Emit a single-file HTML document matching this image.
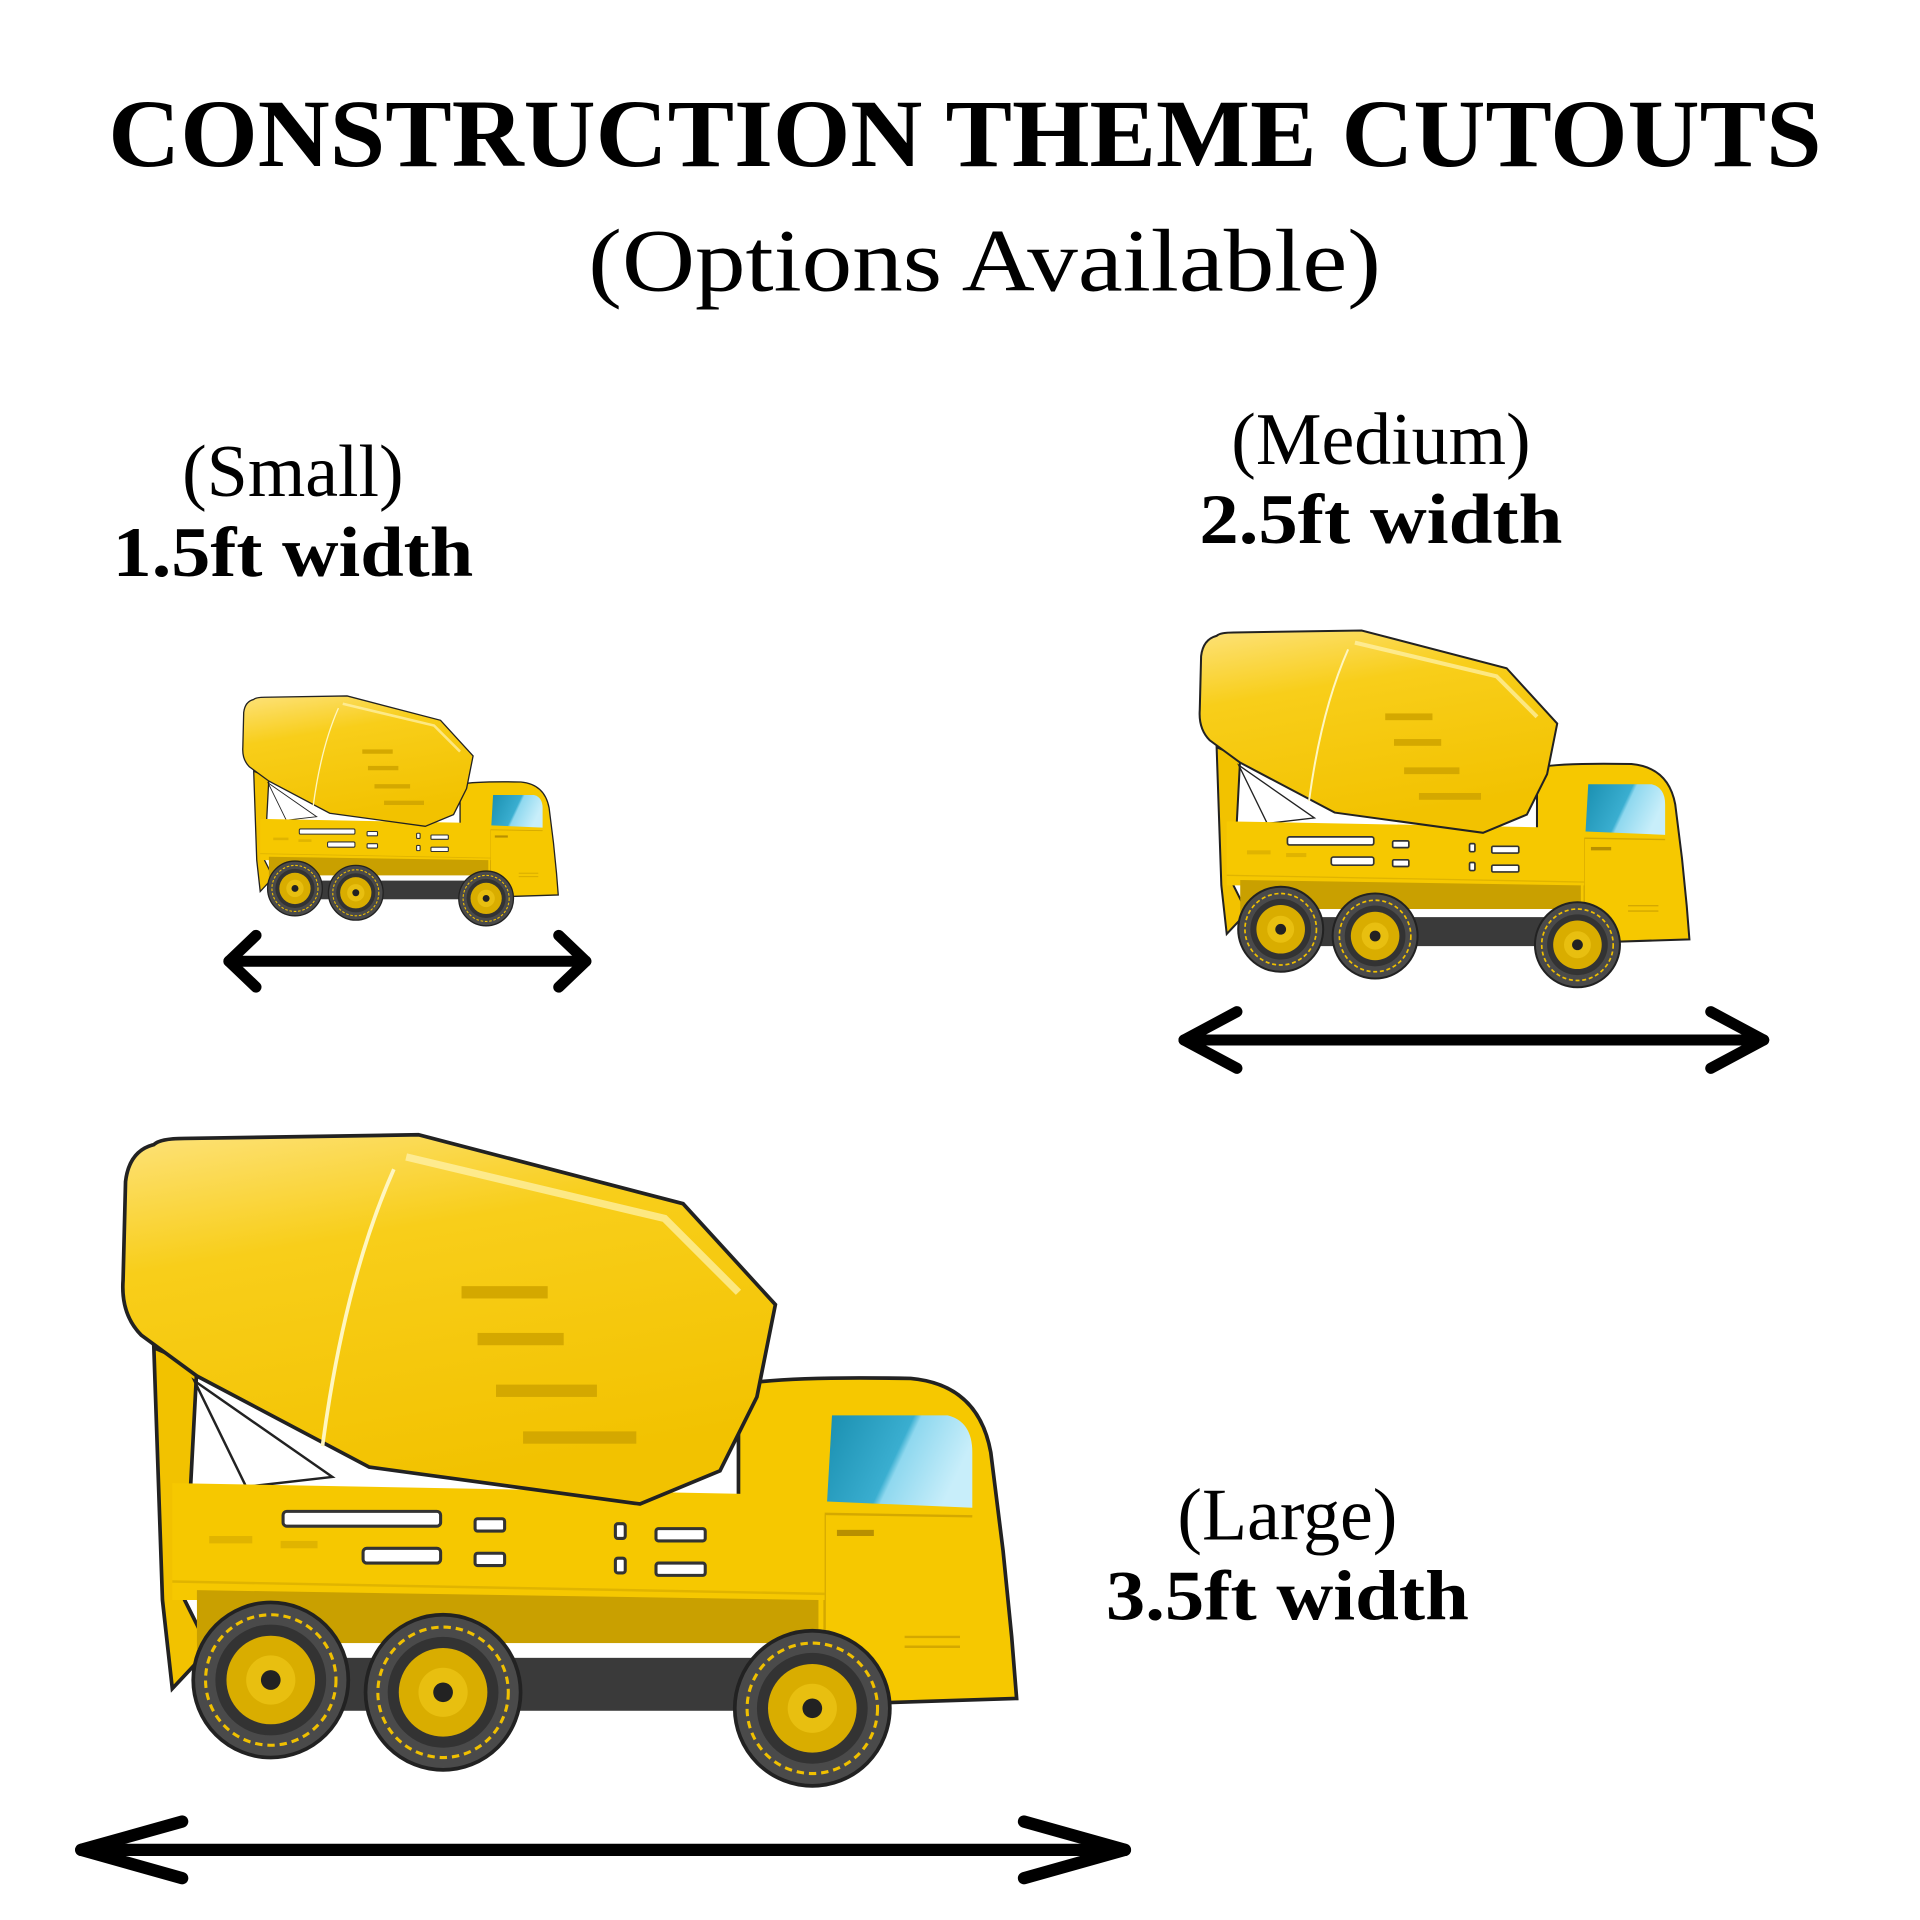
<!DOCTYPE html>
<html><head><meta charset="utf-8"><style>html,body{margin:0;padding:0;background:#fff}svg{display:block}</style></head>
<body>
<svg width="1920" height="1920" viewBox="0 0 1560 1560" xmlns="http://www.w3.org/2000/svg">
<defs>
<linearGradient id="dg" x1="0" y1="0" x2="0.3" y2="1">
<stop offset="0" stop-color="#fde27a"/><stop offset="0.35" stop-color="#f8ce1a"/><stop offset="1" stop-color="#f2c200"/></linearGradient>
<linearGradient id="wg" x1="0" y1="0" x2="1" y2="0.3">
<stop offset="0" stop-color="#1a8fb0"/><stop offset="0.55" stop-color="#3aaed0"/><stop offset="0.6" stop-color="#8fd8ef"/><stop offset="1" stop-color="#c8eefa"/></linearGradient>
<g id="wheel">
<circle r="63" fill="#4a4a4a" stroke="#222" stroke-width="3"/>
<circle r="53" fill="none" stroke="#f0c000" stroke-width="2.5" stroke-dasharray="6 4"/>
<circle r="45" fill="#333"/>
<circle r="36" fill="#d9ad00"/>
<circle r="20" fill="#e8bf10"/>
<circle r="8" fill="#222"/>
</g>
<g id="truck">
<path d="M125,1095 L160,1110 L150,1300 L170,1340 L140,1372 L132,1300 Z" fill="#f2c200" stroke="#222" stroke-width="3"/>
<path d="M600,1125 Q640,1118 740,1120 Q795,1125 805,1180 L815,1260 L822,1330 L826,1380 L670,1385 L600,1380 Z" fill="#f6c800" stroke="#222" stroke-width="3"/>
<path d="M676,1150 L770,1150 Q790,1155 790,1180 L790,1225 L672,1220 Z" fill="url(#wg)"/>
<line x1="670" y1="1230" x2="790" y2="1232" stroke="#d4a800" stroke-width="2"/>
<line x1="670" y1="1380" x2="670" y2="1230" stroke="#d4a800" stroke-width="2"/>
<rect x="680" y="1243" width="30" height="5" fill="#b89000"/>
<line x1="735" y1="1330" x2="780" y2="1330" stroke="#d4a800" stroke-width="2"/>
<line x1="735" y1="1338" x2="780" y2="1338" stroke="#d4a800" stroke-width="2"/>
<path d="M158,1122 L270,1200 L200,1208 Z" fill="#fff" stroke="#222" stroke-width="2"/>
<path d="M140,1205 L670,1215 L670,1300 L140,1300 Z" fill="#f6c800"/>
<path d="M160,1292 L665,1300 L665,1340 L160,1340 Z" fill="#c9a000"/>
<line x1="140" y1="1285" x2="670" y2="1295" stroke="#e0b400" stroke-width="2"/>
<g fill="#fff" stroke="#333" stroke-width="2.5">
<rect x="230" y="1228" width="128" height="12" rx="3"/>
<rect x="295" y="1258" width="63" height="12" rx="3"/>
<rect x="386" y="1234" width="24" height="10" rx="2"/>
<rect x="386" y="1262" width="24" height="10" rx="2"/>
<rect x="500" y="1238" width="8" height="12" rx="2"/>
<rect x="500" y="1266" width="8" height="12" rx="2"/>
<rect x="533" y="1242" width="40" height="10" rx="2"/>
<rect x="533" y="1270" width="40" height="10" rx="2"/>
</g>
<rect x="170" y="1248" width="35" height="6" fill="#e0b400"/>
<rect x="228" y="1252" width="30" height="6" fill="#e0b400"/>
<rect x="270" y="1345" width="360" height="45" fill="#3a3a3a"/>
<rect x="270" y="1335" width="360" height="12" fill="#fff"/>
<path d="M125,930 Q130,925 150,925 L340,922 L555,978 L630,1060 L615,1135 L585,1195 L520,1222 L300,1192 L160,1118 L115,1085 Q98,1068 100,1040 L102,960 Q105,935 125,930 Z" fill="url(#dg)" stroke="#222" stroke-width="3"/>
<path d="M320,950 Q280,1040 262,1175" fill="none" stroke="#fff6c0" stroke-width="3"/>
<path d="M330,940 L540,990 L600,1050" fill="none" stroke="#fff3b0" stroke-width="6" opacity="0.7"/>
<g fill="#d4a800">
<rect x="375" y="1045" width="70" height="10"/>
<rect x="388" y="1083" width="70" height="10"/>
<rect x="403" y="1125" width="82" height="10"/>
<rect x="425" y="1163" width="92" height="10"/>
</g>
<use href="#wheel" x="220" y="1365"/>
<use href="#wheel" x="360" y="1375"/>
<use href="#wheel" x="660" y="1388"/>
</g>
</defs>

<text x="784" y="135" text-anchor="middle" font-family="Liberation Serif, serif" font-weight="bold" font-size="78" textLength="1392" lengthAdjust="spacingAndGlyphs">CONSTRUCTION THEME CUTOUTS</text>
<text x="800" y="236" text-anchor="middle" font-family="Liberation Serif, serif" font-size="72" textLength="644" lengthAdjust="spacingAndGlyphs">(Options Available)</text>

<text x="238" y="403" text-anchor="middle" font-family="Liberation Serif, serif" font-size="60">(Small)</text>
<text x="238" y="468" text-anchor="middle" font-family="Liberation Serif, serif" font-weight="bold" font-size="58" textLength="293" lengthAdjust="spacingAndGlyphs">1.5ft width</text>
<text x="1122" y="377" text-anchor="middle" font-family="Liberation Serif, serif" font-size="60">(Medium)</text>
<text x="1122" y="441" text-anchor="middle" font-family="Liberation Serif, serif" font-weight="bold" font-size="58" textLength="295" lengthAdjust="spacingAndGlyphs">2.5ft width</text>
<text x="1046" y="1251" text-anchor="middle" font-family="Liberation Serif, serif" font-size="60">(Large)</text>
<text x="1046" y="1316" text-anchor="middle" font-family="Liberation Serif, serif" font-weight="bold" font-size="58" textLength="295" lengthAdjust="spacingAndGlyphs">3.5ft width</text>

<use href="#truck"/>
<use href="#truck" transform="translate(920,7) scale(0.548)"/>
<use href="#truck" transform="translate(162,240) scale(0.353)"/>

<g stroke="#000" fill="none" stroke-linecap="round" stroke-linejoin="round">
<g stroke-width="10">
<line x1="66" y1="1503" x2="914" y2="1503"/>
<polyline points="148,1480 66,1503 148,1526"/>
<polyline points="832,1480 914,1503 832,1526"/>
</g>
<g stroke-width="9">
<line x1="962" y1="845" x2="1433" y2="845"/>
<polyline points="1005,822 962,845 1005,868"/>
<polyline points="1390,822 1433,845 1390,868"/>
</g>
<g stroke-width="9">
<line x1="186" y1="781" x2="476" y2="781"/>
<polyline points="208,760 186,781 208,802"/>
<polyline points="454,760 476,781 454,802"/>
</g>
</g>
</svg>
</body></html>
